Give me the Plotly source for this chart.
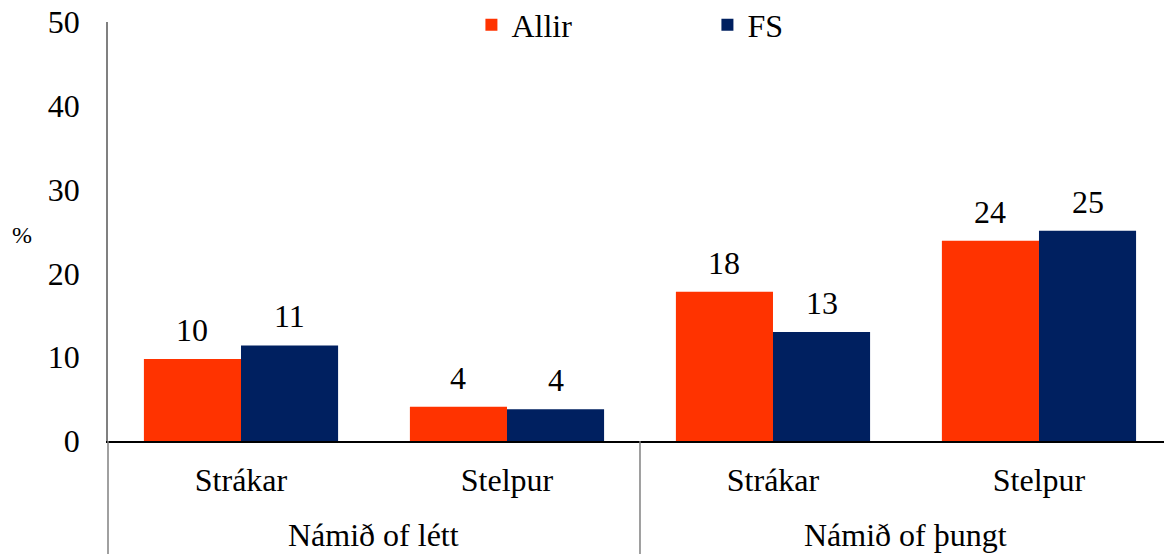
import plotly.graph_objects as go

# Category levels (outer group, inner group)
groups = ["Námið of létt", "Námið of létt", "Námið of þungt", "Námið of þungt"]
genders = ["Strákar", "Stelpur", "Strákar", "Stelpur"]

# Percentages per series
allir = [9.8, 4.1, 17.8, 23.9]
fs = [11.4, 3.8, 13.0, 25.1]

y_ticks = [0, 10, 20, 30, 40, 50]

FONT = "Liberation Serif"
SIZE = 32
ORANGE = "#FF3300"
NAVY = "#002060"
GAP = 0.27

pos = list(range(len(genders)))

fig = go.Figure()
for name, vals, col in [("Allir", allir, ORANGE), ("FS", fs, NAVY)]:
    fig.add_trace(go.Bar(name=name, x=pos, y=vals, marker_color=col,
                         marker_line_width=0))

# value labels above each bar
half = (1 - GAP) / 4
for k, vals in enumerate([allir, fs]):
    shift = -half if k == 0 else half
    for i, v in zip(pos, vals):
        fig.add_annotation(x=i + shift, y=v, text=f"{v:.0f}", showarrow=False,
                           yanchor="middle", yshift=29,
                           font=dict(family=FONT, size=SIZE, color="black"))

# outer category labels and dividers between groups
uniq = list(dict.fromkeys(groups))
plot_h = 554 - 22 - 113
for g in uniq:
    idx = [i for i, gg in enumerate(groups) if gg == g]
    fig.add_annotation(x=sum(idx) / len(idx), y=0, yref="paper", text=g,
                       showarrow=False, yanchor="middle", yshift=-94,
                       font=dict(family=FONT, size=SIZE, color="black"))
    if g != uniq[-1]:
        b = idx[-1] + 0.5
        fig.add_shape(type="line", xref="x", yref="paper", x0=b, x1=b,
                      y0=0, y1=-113 / plot_h,
                      line=dict(color="#808080", width=1.5))

fig.update_layout(
    width=1164, height=554,
    margin=dict(l=108, r=0, t=22, b=113, autoexpand=False),
    paper_bgcolor="white", plot_bgcolor="white",
    barmode="group", bargap=GAP, bargroupgap=0,
    font=dict(family=FONT, size=SIZE, color="black"),
    showlegend=True,
    legend=dict(
        orientation="h", xref="container", yref="container",
        x=0.405, y=1 - 25 / 554, xanchor="left", yanchor="middle",
        entrywidth=191, font=dict(family=FONT, size=SIZE),
        bgcolor="rgba(0,0,0,0)",
    ),
    xaxis=dict(
        range=[-0.5, 3.47], tickvals=pos, ticktext=genders,
        showline=True, linecolor="black", linewidth=1.5,
        ticks="", showgrid=False, zeroline=False,
        ticklabelstandoff=10,
        tickfont=dict(family=FONT, size=SIZE),
    ),
    yaxis=dict(
        range=[0, 50], tickvals=y_ticks, showgrid=False, zeroline=False,
        showline=True, linecolor="#808080", linewidth=1.5, ticks="",
        ticklabelstandoff=20,
        tickfont=dict(family=FONT, size=SIZE),
    ),
)

# y-axis unit label, horizontal
fig.add_annotation(
    text="%", xref="paper", yref="paper", x=0, y=0.5, xshift=-86, yshift=-3,
    showarrow=False, font=dict(family=FONT, size=24), xanchor="center",
)
# y-axis line continued through the category label band
fig.add_shape(
    type="line", xref="paper", yref="paper", x0=0, x1=0, y0=0, y1=-113 / plot_h,
    line=dict(color="#808080", width=1.5),
)

fig.write_html("out.html")
